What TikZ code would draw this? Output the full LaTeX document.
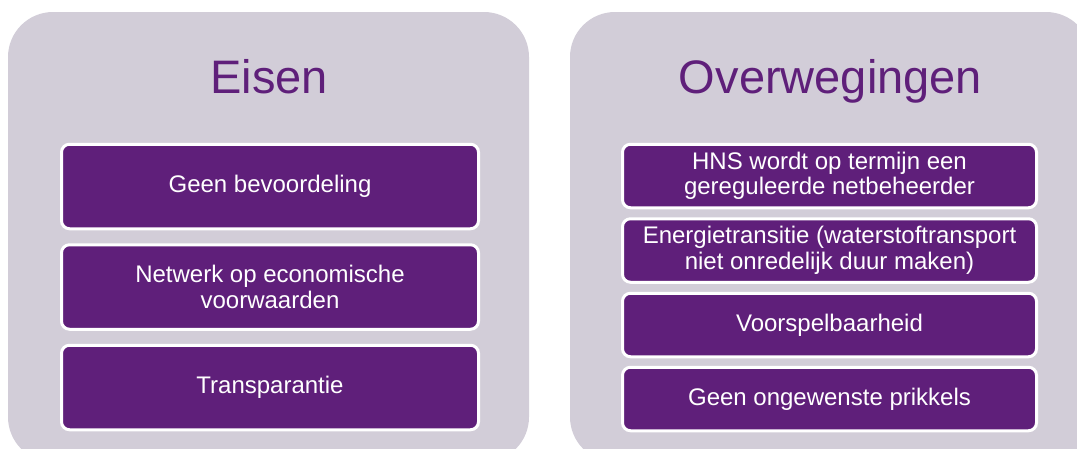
\documentclass[tikz,border=0pt]{standalone}
\usepackage{fontspec}
\setmainfont{Liberation Sans}
\usepackage{tikz}
\definecolor{hnspurple}{RGB}{95,31,122}
\definecolor{panelgray}{RGB}{210,205,216}

\begin{document}
\begin{tikzpicture}[x=1pt,y=-1pt,
  panel/.style={fill=panelgray,rounded corners=45pt},
  paneltitle/.style={anchor=base,text=hnspurple,font=\fontsize{47}{52}\selectfont},
  eisbox/.style={draw=white,line width=3pt,fill=hnspurple,rounded corners=8pt,
    text=white,align=center,inner sep=0pt,minimum width=417pt,minimum height=84.5pt,
    font=\fontsize{24}{26.5}\selectfont},
  overbox/.style={eisbox,minimum width=414pt,minimum height=63.5pt,
    font=\fontsize{24}{25.5}\selectfont}]
\useasboundingbox (0,0) rectangle (1077,448);
\clip (0,0) rectangle (1077,448);
% panels
\fill[panel] (8,12) rectangle (529,462);
\fill[panel] (570,12) rectangle (1091,462);
\node[paneltitle] (eisen) at (269,93) {Eisen};
\node[paneltitle] (overwegingen) at (830.5,93) {Overwegingen};
% eisen
\node[eisbox] (bevoordeling) at (270,186.5) {Geen bevoordeling};
\node[eisbox] (netwerk) at (270,287) {Netwerk op economische\\voorwaarden};
\node[eisbox] (transparantie) at (270,387.5) {Transparantie};
% overwegingen
\node[overbox] (hns) at (829.5,176) {HNS wordt op termijn een\\gereguleerde netbeheerder};
\node[overbox] (transitie) at (829.5,250.5) {Energietransitie (waterstoftransport\\niet onredelijk duur maken)};
\node[overbox] (voorspel) at (829.5,325) {Voorspelbaarheid};
\node[overbox] (prikkels) at (829.5,399) {Geen ongewenste prikkels};
\end{tikzpicture}
\end{document}
